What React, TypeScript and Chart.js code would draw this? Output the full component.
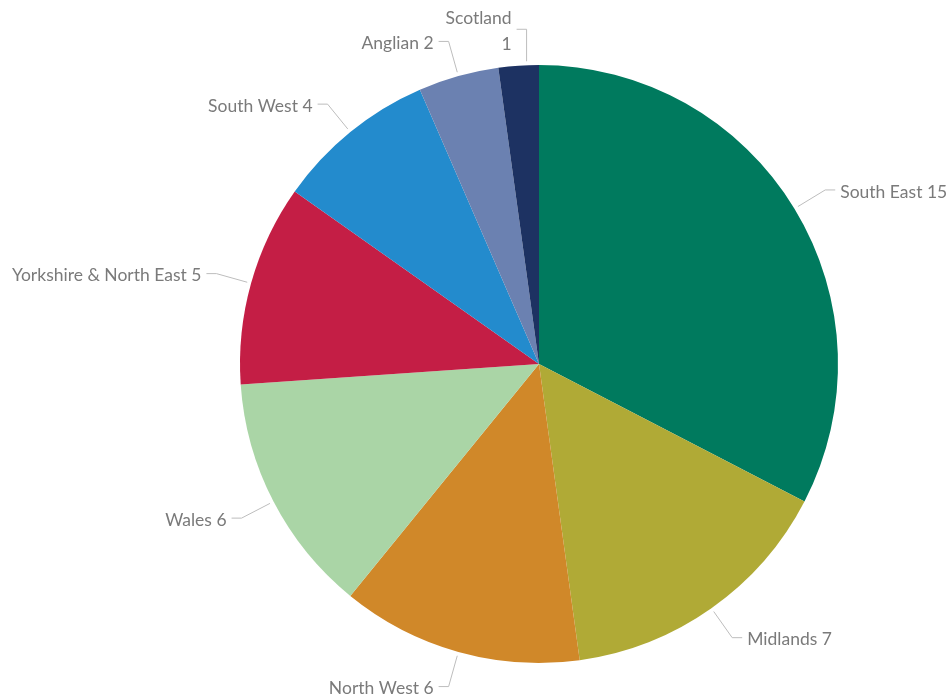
import React, { useEffect, useRef } from "react";
import { Chart, registerables } from "chart.js";

Chart.register(...registerables);

const categories = ["South East", "Midlands", "North West", "Wales", "Yorkshire & North East", "South West", "Anglian", "Scotland"];
const values = [15, 7, 6, 6, 5, 4, 2, 1];
const colors = ["#007A5E", "#B0AA36", "#D08829", "#AAD5A6", "#C41E45", "#238BCD", "#6B81B1", "#1D3262"];

const labelPlugin = {
  id: "leaderLabels",
  afterDatasetsDraw(chart: any) {
    const ctx = chart.ctx;
    const meta = chart.getDatasetMeta(0);
    ctx.save();
    ctx.font = "17.5px Lato";
    meta.data.forEach((arc: any, i: number) => {
      const { x, y, outerRadius, startAngle, endAngle } = arc.getProps(["x", "y", "outerRadius", "startAngle", "endAngle"], true);
      let mid = (startAngle + endAngle) / 2;
      const small = (endAngle - startAngle) < 0.2;
      if (small) mid = startAngle + (endAngle - startAngle) * 0.7;
      const cos = Math.cos(mid);
      const sin = Math.sin(mid);
      const sx = x + cos * (outerRadius + 4);
      const sy = y + sin * (outerRadius + 4);
      let ex = x + cos * (outerRadius + 36);
      const ey = y + sin * (outerRadius + 36);
      if (small) ex = sx;
      const right = cos >= 0 && !small;
      const hx = ex + (right ? 10 : -10);
      ctx.strokeStyle = "#BDBDBD";
      ctx.lineWidth = 1;
      ctx.beginPath();
      ctx.moveTo(sx, sy);
      ctx.lineTo(ex, ey);
      ctx.lineTo(hx, ey);
      ctx.stroke();
      ctx.fillStyle = "#7A7A7A";
      ctx.textAlign = right ? "left" : "right";
      ctx.textBaseline = "middle";
      const tx = hx + (right ? 5 : -5);
      const text = `${categories[i]} ${values[i]}`;
      if (ey < 40) {
        ctx.fillText(categories[i], tx, ey - 11);
        ctx.fillText(String(values[i]), tx, ey + 15);
      } else {
        ctx.fillText(text, tx, ey + 2);
      }
    });
    ctx.restore();
  },
};

export default function App() {
  const ref = useRef<HTMLCanvasElement>(null);
  useEffect(() => {
    if (!ref.current) return;
    const chart = new Chart(ref.current, {
      type: "pie",
      data: {
        labels: categories,
        datasets: [{ data: values, backgroundColor: colors, borderWidth: 0 }],
      },
      options: {
        animation: false,
        responsive: false,
        layout: { padding: { left: 240, right: 110, top: 65, bottom: 36 } },
        plugins: { legend: { display: false }, tooltip: { enabled: false } },
      },
      plugins: [labelPlugin],
    });
    return () => chart.destroy();
  }, []);
  return (
    <div style={{ position: "absolute", left: 0, top: 0, width: 948, height: 699, background: "#fff" }}>
      <canvas ref={ref} width={948} height={699} style={{ width: 948, height: 699 }} />
    </div>
  );
}
